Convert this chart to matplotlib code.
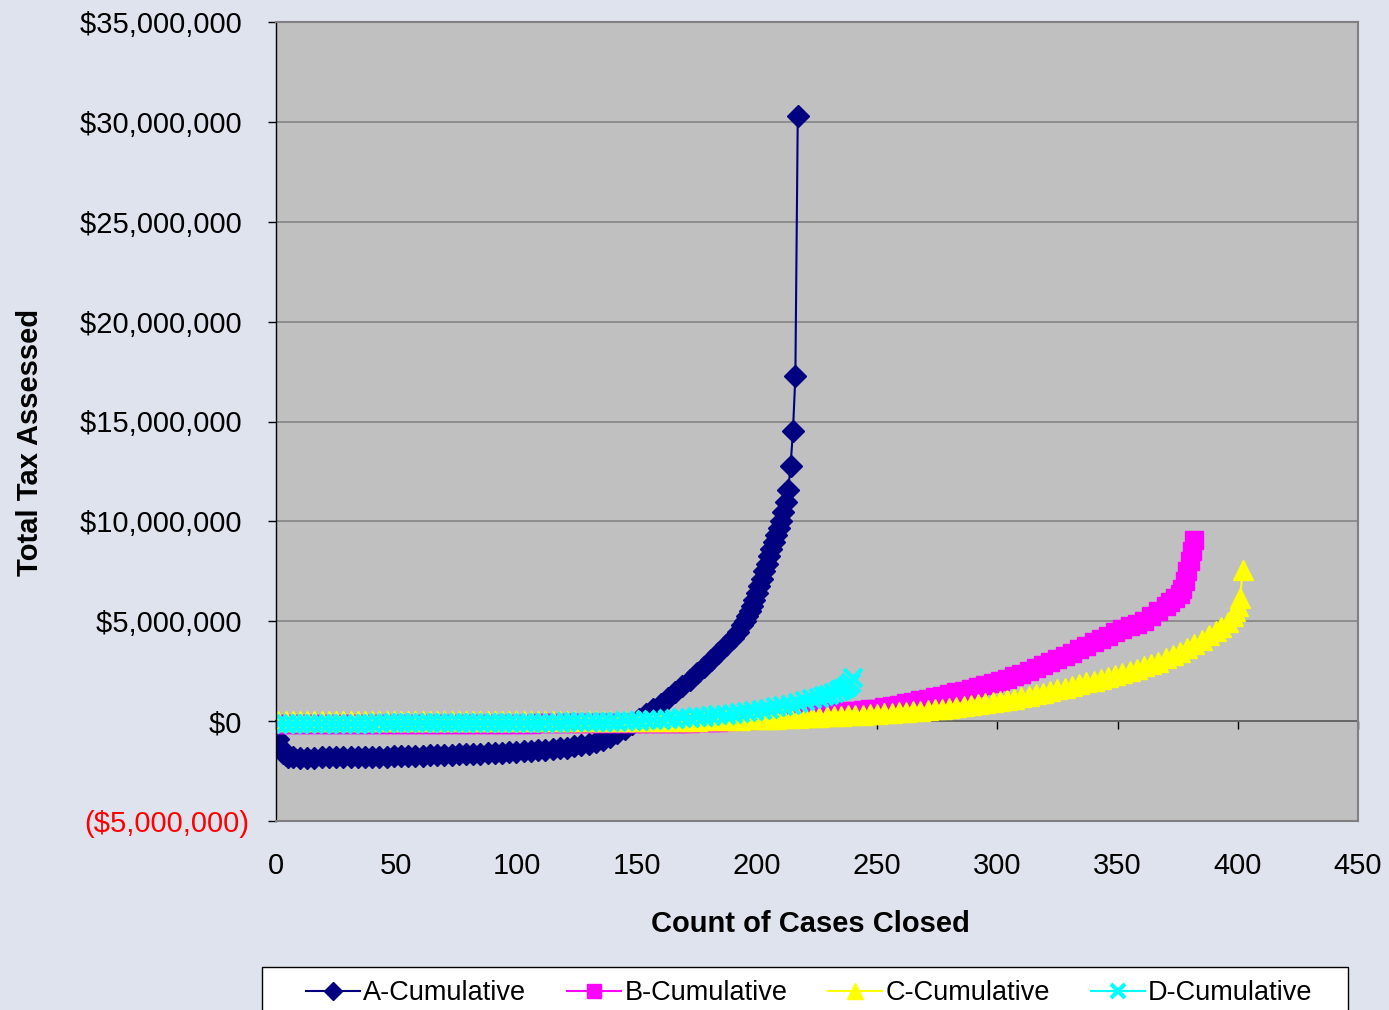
import matplotlib
matplotlib.use("Agg")
import matplotlib.pyplot as plt
from matplotlib.patches import Rectangle

plt.rcParams['font.family'] = ['Liberation Sans', 'DejaVu Sans']

# cumulative tax assessed (millions of $) against count of cases closed
a_cases = [1, 2, 3, 4, 5] + list(range(7, 188, 3)) + [190, 192, 194] + list(range(195, 218))
a_total = [-0.90, -1.35, -1.60, -1.72, -1.78,
           -1.82, -1.83, -1.83, -1.83, -1.82, -1.82, -1.82, -1.81, -1.81, -1.80,
           -1.80, -1.79, -1.78, -1.78, -1.77, -1.76, -1.75, -1.74, -1.73, -1.72,
           -1.71, -1.70, -1.68, -1.67, -1.66, -1.64, -1.63, -1.61, -1.59, -1.58,
           -1.56, -1.53, -1.51, -1.49, -1.46, -1.43, -1.40, -1.37, -1.33, -1.27,
           -1.21, -1.14, -1.06, -0.95, -0.78, -0.59, -0.38, -0.15, 0.10, 0.35,
           0.61, 0.88, 1.16, 1.45, 1.75, 2.07, 2.39, 2.72, 3.07, 3.42,
           3.79,
           4.18, 4.45, 4.80,
           5.02, 5.25, 5.50, 5.78, 6.08, 6.40, 6.75, 7.12, 7.50, 7.88,
           8.25, 8.62, 8.97, 9.32, 9.67, 10.00, 10.45, 10.95, 11.56, 12.78,
           14.52, 17.27, 30.29]

b_cases = [1] + list(range(4, 359, 3)) + [361, 364, 367, 370, 372, 374, 376, 377, 378, 379, 380, 381, 382]
b_total = [-0.15,
           -0.15, -0.15, -0.15, -0.15, -0.15, -0.15, -0.15, -0.15, -0.15, -0.15,
           -0.15, -0.15, -0.15, -0.14, -0.14, -0.14, -0.14, -0.14, -0.14, -0.14,
           -0.14, -0.13, -0.13, -0.13, -0.13, -0.13, -0.13, -0.13, -0.12, -0.12,
           -0.12, -0.12, -0.12, -0.12, -0.12, -0.11, -0.11, -0.11, -0.11, -0.11,
           -0.11, -0.10, -0.10, -0.10, -0.10, -0.10, -0.10, -0.10, -0.10, -0.10,
           -0.10, -0.09, -0.09, -0.08, -0.08, -0.07, -0.07, -0.06, -0.05, -0.04,
           -0.02, 0.00, 0.02, 0.05, 0.07, 0.09, 0.12, 0.15, 0.18, 0.21,
           0.24, 0.28, 0.31, 0.34, 0.38, 0.41, 0.44, 0.47, 0.50, 0.53,
           0.56, 0.59, 0.62, 0.69, 0.76, 0.83, 0.90, 0.97, 1.05, 1.12,
           1.20, 1.27, 1.35, 1.44, 1.53, 1.62, 1.71, 1.80, 1.89, 1.99,
           2.11, 2.24, 2.37, 2.51, 2.66, 2.80, 2.95, 3.10, 3.26, 3.43,
           3.60, 3.78, 3.95, 4.12, 4.28, 4.45, 4.60, 4.75, 4.88,
           5.02, 5.25, 5.50, 5.75, 5.95, 6.15, 6.35, 6.60, 7.00, 7.50, 8.00, 8.50, 9.05]

c_cases = [1] + list(range(4, 392, 3)) + [393, 396, 398, 399, 400, 401, 402]
c_total = [0.00,
           0.00, 0.00, 0.00, 0.00, 0.00, 0.00, 0.00, 0.00, 0.00, 0.00,
           0.00, 0.00, 0.00, 0.00, 0.00, 0.00, 0.00, 0.00, 0.00, 0.00,
           0.00, 0.00, 0.00, 0.00, 0.00, 0.00, 0.00, 0.00, 0.00, 0.00,
           0.00, 0.00, 0.00, 0.00, 0.00, 0.00, 0.00, 0.00, 0.00, 0.00,
           0.00, 0.00, 0.00, 0.00, 0.00, 0.00, 0.01, 0.01, 0.01, 0.01,
           0.01, 0.01, 0.01, 0.02, 0.02, 0.02, 0.03, 0.03, 0.04, 0.04,
           0.05, 0.06, 0.07, 0.08, 0.09, 0.10, 0.11, 0.12, 0.13, 0.14,
           0.16, 0.17, 0.19, 0.20, 0.22, 0.24, 0.25, 0.27, 0.29, 0.31,
           0.32, 0.34, 0.36, 0.39, 0.41, 0.44, 0.47, 0.50, 0.53, 0.56,
           0.59, 0.62, 0.66, 0.70, 0.75, 0.80, 0.85, 0.90, 0.95, 1.01,
           1.07, 1.13, 1.20, 1.27, 1.35, 1.42, 1.50, 1.59, 1.67, 1.76,
           1.85, 1.94, 2.03, 2.12, 2.22, 2.31, 2.41, 2.52, 2.63, 2.74,
           2.86, 2.98, 3.14, 3.30, 3.48, 3.65, 3.85, 4.08, 4.30, 4.52,
           4.70, 4.98, 5.25, 5.50, 5.78, 6.14, 7.56]

d_cases = [1] + list(range(4, 227, 3)) + [228, 230, 232, 234, 235, 236, 237, 238, 239, 240]
d_total = [-0.12,
           -0.12, -0.12, -0.12, -0.12, -0.12, -0.12, -0.12, -0.12, -0.12, -0.12,
           -0.12, -0.12, -0.12, -0.11, -0.11, -0.11, -0.11, -0.11, -0.11, -0.11,
           -0.11, -0.10, -0.10, -0.10, -0.10, -0.10, -0.10, -0.09, -0.09, -0.09,
           -0.09, -0.09, -0.08, -0.08, -0.08, -0.08, -0.08, -0.07, -0.07, -0.06,
           -0.05, -0.05, -0.04, -0.04, -0.03, -0.02, -0.02, -0.01, 0.01, 0.02,
           0.04, 0.06, 0.08, 0.10, 0.12, 0.14, 0.17, 0.20, 0.23, 0.26,
           0.29, 0.32, 0.36, 0.40, 0.45, 0.50, 0.56, 0.62, 0.69, 0.76,
           0.83, 0.91, 1.00, 1.09, 1.18,
           1.25, 1.33, 1.42, 1.50, 1.55, 1.61, 1.68, 1.78, 1.92, 2.14]

x_ticks = [0, 50, 100, 150, 200, 250, 300, 350, 400, 450]
y_ticks = [-5, 0, 5, 10, 15, 20, 25, 30, 35]


def money(v):
    if v < 0:
        return "(${:,.0f})".format(-v * 1e6)
    return "${:,.0f} ".format(v * 1e6)


fig = plt.figure(figsize=(13.89, 10.10), dpi=100, facecolor='#DFE3EE')
ax = fig.add_axes([276 / 1389, 1 - 821 / 1010, 1082 / 1389, 799 / 1010])
ax.set_facecolor('#C0C0C0')

ax.plot(a_cases, a_total, color='#000080', lw=1.5, marker='D', ms=11, label='A-Cumulative')
ax.plot(b_cases, b_total, color='#FF00FF', lw=1.5, marker='s', ms=12.5, label='B-Cumulative')
ax.plot(c_cases, c_total, color='#FFFF00', lw=1.5, marker='^', ms=14, label='C-Cumulative')
ax.plot(d_cases, d_total, color='#00FFFF', lw=1.5, marker='x', ms=12.5, mew=3, label='D-Cumulative')

ax.set_xlim(0, 450)
ax.set_ylim(-5, 35)
ax.set_xticks(x_ticks)
ax.set_xticklabels([str(t) for t in x_ticks])
ax.set_yticks(y_ticks, labels=[money(v) for v in y_ticks])
for lab in ax.get_yticklabels():
    if lab.get_text().startswith('('):
        lab.set_color('red')

ax.tick_params(axis='x', length=0, pad=22, labelsize=21)
ax.tick_params(axis='y', direction='out', length=6, width=1, pad=13, labelsize=21)
ax.yaxis.grid(True, color='#808080', lw=1.1)
ax.set_axisbelow(True)

for side in ['top', 'right', 'bottom']:
    ax.spines[side].set_color('#808080')
    ax.spines[side].set_linewidth(1.5)
ax.spines['left'].set_color('black')
ax.spines['left'].set_linewidth(1)

# horizontal axis crosses at $0
sec = ax.secondary_xaxis(0, transform=ax.transData)
sec.set_xticks(x_ticks)
sec.tick_params(axis='x', direction='out', length=6, width=1, labelbottom=False)
sec.spines['bottom'].set_color('black')
sec.spines['bottom'].set_linewidth(1.2)

ax.set_xlabel('Count of Cases Closed', fontsize=21, fontweight='bold')
ax.xaxis.set_label_coords(0.494, -0.112)
ax.set_ylabel('Total Tax Assessed', fontsize=21, fontweight='bold')
ax.yaxis.set_label_coords(-0.214, 0.474)

# legend box runs off the bottom of the picture
fig.patches.append(Rectangle((262 / 1389, -0.02), 1086 / 1389, 0.02 + (1010 - 967) / 1010,
                             transform=fig.transFigure, facecolor='white',
                             edgecolor='black', lw=1, zorder=1))
fig.legend(loc='upper left', bbox_to_anchor=(306 / 1389, 1 - 980 / 1010), ncol=4,
           frameon=False, fontsize=19.5, handlelength=2.0, handletextpad=0.12,
           columnspacing=1.5, borderpad=0, borderaxespad=0, markerscale=0.85)

fig.savefig('out.png', dpi=100, facecolor=fig.get_facecolor())
